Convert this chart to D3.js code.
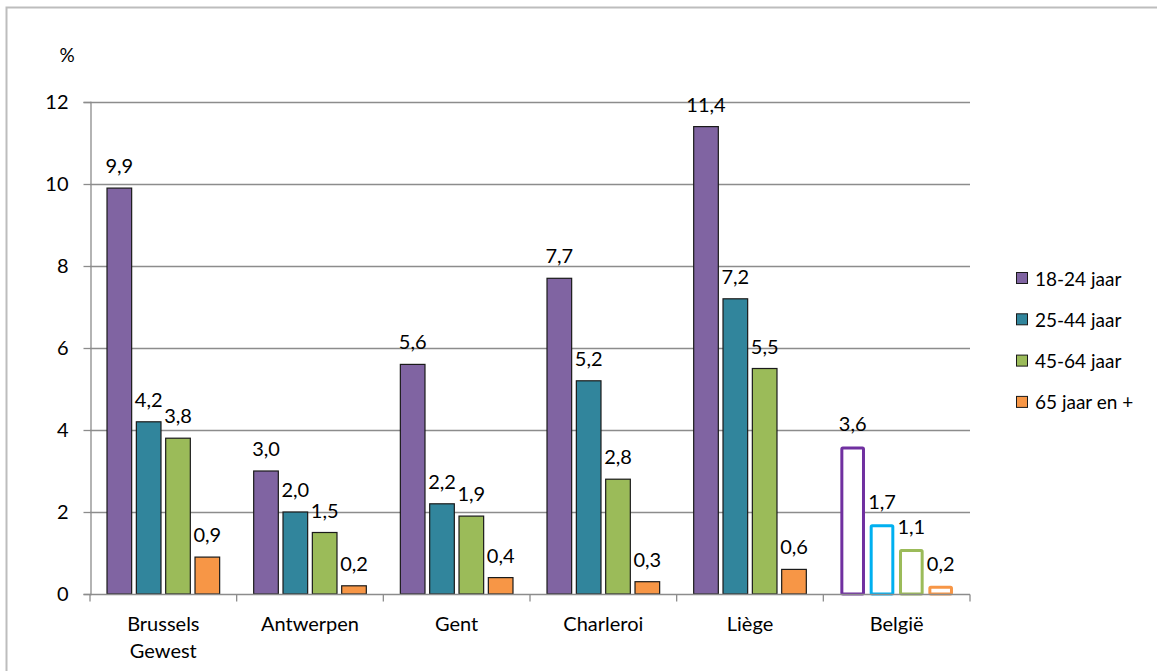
<!DOCTYPE html>
<html><head><meta charset="utf-8">
<script src="https://cdn.jsdelivr.net/npm/d3@7"></script>
<style>body{margin:0;background:#fff}svg{display:block}text{font-family:Lato,"Open Sans",sans-serif;fill:#000}</style>
</head><body><svg id="c" width="1157" height="671"></svg>
<script>
const categories = [["Brussels","Gewest"],["Antwerpen"],["Gent"],["Charleroi"],["Liège"],["België"]];
const seriesNames = ["18-24 jaar","25-44 jaar","45-64 jaar","65 jaar en +"];
const s1824 = [9.9,3.0,5.6,7.7,11.4,3.6];
const s2544 = [4.2,2.0,2.2,5.2,7.2,1.7];
const s4564 = [3.8,1.5,1.9,2.8,5.5,1.1];
const s65 = [0.9,0.2,0.4,0.3,0.6,0.2];
const yTicks = [0,2,4,6,8,10,12];
const fills = ["#8064A2","#31859C","#9BBB59","#F79646"];
const outlineColors = ["#7030A0","#00B0F0","#9BBB59","#F79646"];
const series = [s1824,s2544,s4564,s65];

const svg = d3.select("#c");
// outer frame
svg.append("path").attr("d","M6.5,671 V7.5 H1157").attr("fill","none").attr("stroke","#bdbdbd").attr("stroke-width",2);

const L=90,R=970,T=102,B=594;
const catKeys = categories.map((c,i)=>i);
const x0 = d3.scaleBand().domain(catKeys).range([L,R]).padding(0);
const x1 = d3.scaleBand().domain(d3.range(4)).range([0,x0.bandwidth()]).paddingInner(0.16).paddingOuter(0.58);
const y = d3.scaleLinear().domain([0,12]).range([B,T]);

// gridlines
svg.append("g").selectAll("line").data(yTicks.filter(d=>d>0)).join("line")
  .attr("x1",L).attr("x2",R).attr("y1",d=>y(d)+0.5).attr("y2",d=>y(d)+0.5)
  .attr("stroke","#8c8c8c").attr("stroke-width",1.3);

// y axis
const ya = svg.append("g").attr("transform",`translate(${L+0.5},0)`)
  .call(d3.axisLeft(y).tickValues(yTicks).tickSize(7).tickPadding(15).tickFormat(d=>d));
ya.select(".domain").attr("stroke","#8c8c8c").attr("stroke-width",1.3);
ya.selectAll(".tick line").attr("stroke","#8c8c8c").attr("stroke-width",1.3);
ya.selectAll(".tick text").attr("font-size",20).attr("font-family","Lato").attr("fill","#000");

svg.append("text").attr("x",67).attr("y",62).attr("text-anchor","middle").attr("font-size",19).text("%");

// bars
const g = svg.append("g");
catKeys.forEach(ci=>{
  const isBE = ci===5;
  series.forEach((s,si)=>{
    const v=s[ci];
    const bx=x0(ci)+x1(si), bw=x1.bandwidth();
    if(isBE){
      g.append("rect").attr("x",bx+1.5).attr("y",y(v)+1.5).attr("width",bw-3).attr("height",Math.max(0,B-y(v)-1.5))
        .attr("fill","#fff").attr("stroke",outlineColors[si]).attr("stroke-width",3).attr("rx",1);
    } else {
      g.append("rect").attr("x",bx).attr("y",y(v)).attr("width",bw).attr("height",B-y(v))
        .attr("fill",fills[si]).attr("stroke","#1a1a1a").attr("stroke-width",1.2);
    }
    g.append("text").attr("x",bx+bw/2).attr("y",y(v)-15).attr("text-anchor","middle").attr("font-size",20)
      .text(d3.format(".1f")(v).replace(".",","));
  });
});

// x axis
const xa = svg.append("g").attr("transform",`translate(0,${B+0.5})`);
xa.append("line").attr("x1",L).attr("x2",R).attr("stroke","#8c8c8c").attr("stroke-width",1.3);
xa.selectAll("line.t").data(d3.range(7)).join("line").attr("class","t")
  .attr("x1",d=>L+d*x0.step()).attr("x2",d=>L+d*x0.step()).attr("y1",0).attr("y2",7)
  .attr("stroke","#8c8c8c").attr("stroke-width",1.3);
catKeys.forEach(ci=>{
  const t = xa.append("text").attr("x",x0(ci)+x0.bandwidth()/2).attr("y",36).attr("text-anchor","middle").attr("font-size",20);
  categories[ci].forEach((ln,li)=>t.append("tspan").attr("x",x0(ci)+x0.bandwidth()/2).attr("dy",li?27:0).text(ln));
});

// legend
const leg = svg.append("g");
seriesNames.forEach((n,i)=>{
  const ly = 279 + i*41.3;
  leg.append("rect").attr("x",1016.5).attr("y",ly-6.5).attr("width",11).attr("height",11).attr("fill",fills[i]).attr("stroke","#1a1a1a").attr("stroke-width",1);
  leg.append("text").attr("x",1035).attr("y",ly+6.5).attr("font-size",19).text(n);
});
</script></body></html>
